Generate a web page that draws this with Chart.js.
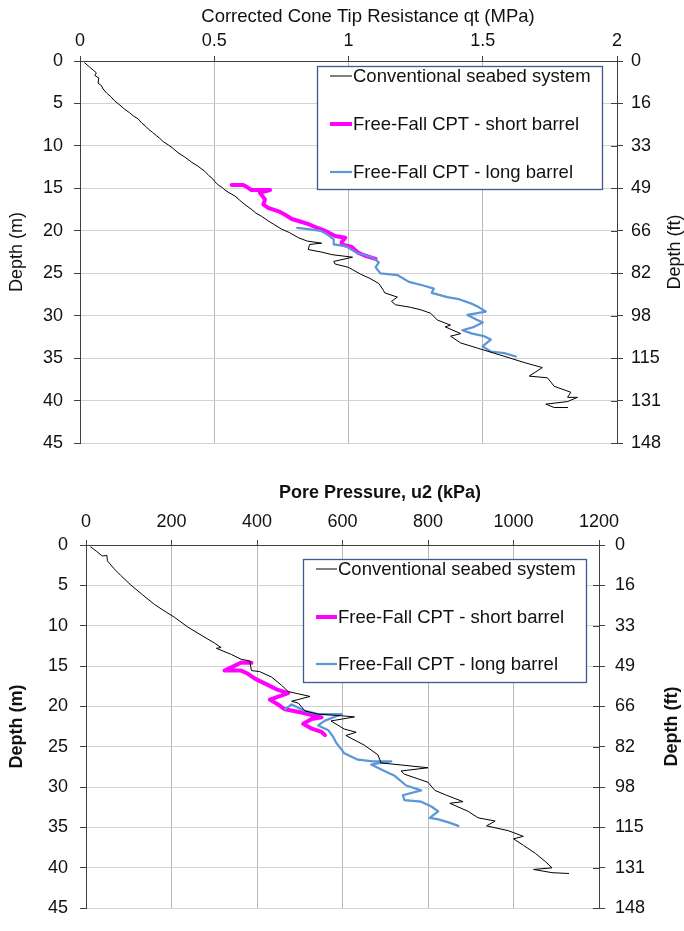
<!DOCTYPE html>
<html><head><meta charset="utf-8">
<script src="https://cdn.jsdelivr.net/npm/chart.js@4.4.1/dist/chart.umd.min.js"></script>
<style>
html,body{margin:0;padding:0;background:#fff;}
#wrap{position:relative;width:684px;height:931px;overflow:hidden;background:#fff;}
canvas{position:absolute;left:0;}
</style></head><body>
<div id="wrap">
<canvas id="c1" width="684" height="465" style="top:0;width:684px;height:465px"></canvas>
<canvas id="c2" width="684" height="466" style="top:465px;width:684px;height:466px"></canvas>
</div>
<script>
// ---------- tick labels ----------
const depthTicks = [0, 5, 10, 15, 20, 25, 30, 35, 40, 45];
const depthMLabels = ['0', '5', '10', '15', '20', '25', '30', '35', '40', '45'];
const depthFtLabels = ['0', '16', '33', '49', '66', '82', '98', '115', '131', '148'];
const qtTicks = [0, 0.5, 1, 1.5, 2];
const qtTickLabels = ['0', '0.5', '1', '1.5', '2'];
const u2Ticks = [0, 200, 400, 600, 800, 1000, 1200];
const u2TickLabels = ['0', '200', '400', '600', '800', '1000', '1200'];

const seriesNames = ['Conventional seabed system', 'Free-Fall CPT - short barrel', 'Free-Fall CPT - long barrel'];

// ---------- Chart 1: corrected cone tip resistance qt (MPa) vs depth (m) ----------
const qtConvDepth = [0.2, 0.7, 1.1, 1.4, 1.7, 2.0, 2.6, 2.9, 3.3, 3.8, 4.2, 4.7, 5.1, 5.5, 5.7, 6.1, 6.5, 6.8, 7.3, 7.7, 8.0, 8.4, 8.8, 9.1, 9.5, 9.9, 10.3, 10.8, 11.3, 11.9, 12.4, 13.0, 13.5, 13.9, 14.2, 14.6, 14.9, 15.2, 15.5, 15.9, 16.4, 16.9, 17.5, 17.9, 18.3, 18.8, 19.2, 19.8, 20.2, 20.8, 21.2, 21.45, 21.6, 22.2, 22.5, 22.8, 23.1, 23.6, 23.9, 24.3, 25.1, 25.6, 26.2, 27.0, 27.3, 27.8, 28.3, 28.7, 29.0, 29.3, 29.7, 30.5, 31.1, 31.3, 32.1, 32.4, 33.2, 33.8, 34.4, 35.0, 35.5, 36.1, 37.1, 37.3, 38.3, 39.0, 39.6, 39.6, 40.1, 40.4, 40.8, 40.8];
const qtConvValue = [0.017, 0.035, 0.05, 0.061, 0.055, 0.07, 0.067, 0.08, 0.086, 0.1, 0.115, 0.129, 0.145, 0.16, 0.167, 0.185, 0.2, 0.216, 0.23, 0.245, 0.254, 0.27, 0.285, 0.297, 0.31, 0.33, 0.347, 0.365, 0.39, 0.415, 0.44, 0.465, 0.48, 0.495, 0.502, 0.515, 0.53, 0.54, 0.555, 0.577, 0.595, 0.614, 0.64, 0.655, 0.677, 0.7, 0.72, 0.751, 0.78, 0.813, 0.846, 0.9, 0.855, 0.85, 0.9, 0.938, 1.015, 0.945, 0.95, 1.0, 1.045, 1.08, 1.113, 1.13, 1.135, 1.182, 1.16, 1.175, 1.231, 1.27, 1.306, 1.331, 1.38, 1.36, 1.418, 1.38, 1.418, 1.48, 1.542, 1.604, 1.654, 1.722, 1.673, 1.741, 1.766, 1.828, 1.816, 1.853, 1.816, 1.735, 1.766, 1.816];

const qtShortDepth = [14.6, 14.6, 14.9, 15.2, 15.2, 15.5, 15.7, 16.3, 16.9, 17.3, 17.7, 18.1, 18.6, 18.9, 19.2, 19.6, 20.0, 20.6, 20.8, 21.3, 21.6, 21.9, 22.6, 22.9, 23.3];
const qtShortValue = [0.565, 0.608, 0.625, 0.639, 0.708, 0.67, 0.675, 0.689, 0.683, 0.701, 0.74, 0.764, 0.789, 0.82, 0.851, 0.88, 0.913, 0.95, 0.988, 0.975, 0.975, 1.012, 1.037, 1.06, 1.101];

const qtLongDepth = [19.65, 19.8, 20.0, 20.4, 21.0, 21.6, 21.8, 22.6, 23.1, 23.7, 24.3, 25.0, 25.2, 26.0, 26.4, 26.8, 27.3, 27.8, 28.0, 28.6, 29.0, 29.5, 29.9, 30.5, 30.8, 31.3, 31.7, 32.1, 32.4, 32.8, 33.6, 34.2, 34.4, 34.8];
const qtLongValue = [0.809, 0.85, 0.896, 0.92, 0.945, 0.945, 0.989, 1.032, 1.088, 1.113, 1.101, 1.119, 1.182, 1.225, 1.275, 1.318, 1.31, 1.368, 1.406, 1.461, 1.486, 1.511, 1.443, 1.48, 1.5, 1.468, 1.424, 1.461, 1.505, 1.53, 1.499, 1.53, 1.58, 1.623];

// ---------- Chart 2: pore pressure u2 (kPa) vs depth (m) ----------
const u2ConvDepth = [0.24, 0.8, 1.36, 1.3, 1.96, 2.96, 3.76, 4.96, 6.16, 7.36, 8.16, 8.96, 10.16, 11.16, 12.16, 12.7, 12.8, 13.56, 14.16, 14.36, 15.56, 15.68, 16.36, 17.36, 18.16, 18.76, 19.36, 19.6, 20.56, 20.96, 21.16, 21.3, 21.8, 22.8, 23.2, 23.6, 24.8, 26.0, 27.0, 27.6, 28.0, 28.4, 29.4, 30.4, 31.0, 31.8, 32.0, 33.0, 33.8, 34.2, 34.8, 35.4, 36.1, 36.4, 37.2, 38.2, 39.2, 40.0, 40.2, 40.6, 40.7];
const u2ConvValue = [11, 25, 38, 49, 50, 66, 81, 105, 132, 160, 183, 207, 238, 269, 301, 316, 305, 340, 363, 383, 387, 406, 434, 457, 473, 524, 481, 497, 512, 543, 598, 628, 573, 604, 632, 608, 651, 683, 690, 800, 737, 745, 800, 816, 843, 882, 851, 894, 917, 957, 937, 988, 1023, 1000, 1023, 1051, 1074, 1090, 1047, 1090, 1129];

const u2ShortDepth = [14.6, 14.56, 15.16, 15.56, 15.56, 15.96, 16.56, 17.36, 17.96, 18.36, 19.16, 19.76, 20.36, 20.76, 21.36, 21.56, 22.16, 22.76, 23.16, 23.56];
const u2ShortValue = [387, 363, 340, 324, 363, 379, 395, 426, 449, 473, 430, 449, 465, 504, 551, 528, 508, 528, 551, 559];

const u2LongDepth = [20.36, 19.76, 20.56, 20.96, 20.96, 21.76, 22.36, 22.96, 23.76, 24.56, 25.36, 25.8, 26.2, 26.6, 26.8, 26.8, 27.2, 28.0, 28.6, 29.8, 30.4, 31.0, 31.6, 31.8, 32.4, 33.0, 33.8, 34.0, 34.4, 34.8];
const u2LongValue = [465, 481, 512, 543, 598, 559, 543, 567, 578, 586, 598, 604, 620, 636, 671, 714, 667, 698, 722, 749, 784, 741, 745, 784, 808, 824, 804, 824, 850, 871];

// ---------- styling ----------
const FONT = '"Liberation Sans", Arial, sans-serif';
const AXIS = '#404040';
const TXT = '#111';
const COLORS = ['#000000', '#ff00ff', '#5b96d8'];
const WIDTHS = [1, 4, 2.2];

function pts(xs, ys) { return xs.map((x, i) => ({ x: x, y: ys[i] })); }

const boxLegend = {
  id: 'boxLegend',
  afterDatasetsDraw(chart, args, o) {
    const ctx = chart.ctx;
    ctx.save();
    ctx.fillStyle = '#fff';
    ctx.fillRect(o.x, o.y, o.w, o.h);
    ctx.strokeStyle = '#3d5a8c';
    ctx.lineWidth = 1.3;
    ctx.strokeRect(o.x + 0.5, o.y + 0.5, o.w, o.h);
    ctx.font = o.fontSize + 'px ' + FONT;
    ctx.textBaseline = 'middle';
    ctx.textAlign = 'left';
    chart.data.datasets.forEach((ds, i) => {
      const y = o.y + o.rows[i];
      ctx.strokeStyle = ds.borderColor;
      ctx.lineWidth = ds.borderWidth;
      ctx.beginPath();
      ctx.moveTo(o.x + o.lx0, y);
      ctx.lineTo(o.x + o.lx1, y);
      ctx.stroke();
      ctx.fillStyle = TXT;
      ctx.fillText(ds.label, o.x + o.tx, y + 1);
    });
    ctx.restore();
  }
};

const axisExtras = {
  id: 'axisExtras',
  afterDraw(chart, args, o) {
    const sc = chart.scales.y2;
    const ctx = chart.ctx;
    ctx.save();
    ctx.strokeStyle = AXIS;
    ctx.lineWidth = 1;
    depthTicks.forEach(v => {
      const y = Math.round(sc.getPixelForValue(v)) + 0.5;
      ctx.beginPath();
      ctx.moveTo(sc.left - o.inner, y);
      ctx.lineTo(sc.left, y);
      ctx.stroke();
    });
    const weight = o.bold ? 'bold ' : '';
    ctx.fillStyle = TXT;
    ctx.textAlign = 'center';
    ctx.textBaseline = 'middle';
    // top (x) axis title
    ctx.font = weight + o.xTitleSize + 'px ' + FONT;
    ctx.fillText(o.xTitle, o.xTitleX, o.xTitleY);
    // right axis title, reading bottom-to-top
    ctx.translate(o.titleX, (chart.chartArea.top + chart.chartArea.bottom) / 2);
    ctx.rotate(-Math.PI / 2);
    ctx.font = weight + o.fontSize + 'px ' + FONT;
    ctx.fillText(o.title, 0, 0);
    ctx.restore();
  }
};

function build(id, p) {
  const datasets = p.series.map((s, i) => ({
    label: seriesNames[i],
    data: pts(s[0], s[1]),
    showLine: true,
    borderColor: COLORS[i],
    backgroundColor: COLORS[i],
    borderWidth: WIDTHS[i],
    borderJoinStyle: 'round',
    borderCapStyle: 'round',
    pointRadius: 0,
    pointHoverRadius: 0,
    tension: 0,
    order: [0, 2, 1][i],
    xAxisID: 'x',
    yAxisID: 'y'
  }));
  const tickFont = { family: FONT, size: p.tickSize };
  const titleFont = { family: FONT, size: p.titleSize, weight: p.bold ? 'bold' : 'normal' };
  return new Chart(document.getElementById(id), {
    type: 'scatter',
    data: { datasets: datasets },
    options: {
      responsive: false,
      animation: false,
      devicePixelRatio: 1,
      layout: { padding: { left: 0, right: 0, top: 0, bottom: p.padBottom } },
      plugins: {
        legend: { display: false },
        tooltip: { enabled: false },
        boxLegend: p.legend,
        axisExtras: p.extras
      },
      scales: {
        x: {
          type: 'linear', position: 'top', min: p.xTicks[0], max: p.xTicks[p.xTicks.length - 1],
          afterBuildTicks: s => { s.ticks = p.xTicks.map(v => ({ value: v })); },
          ticks: { callback: v => p.xLabels[p.xTicks.indexOf(v)], font: tickFont, color: TXT, padding: p.xTickPad, maxRotation: 0, autoSkip: false },
          grid: { color: '#b8b8b8', tickColor: AXIS, tickLength: 5, lineWidth: 1 },
          border: { color: AXIS, width: 1 },
          title: { display: false },
          afterFit: s => { s.height = p.top; }
        },
        y: {
          type: 'linear', position: 'left', reverse: true, min: 0, max: 45,
          afterBuildTicks: s => { s.ticks = depthTicks.map(v => ({ value: v })); },
          ticks: { callback: v => depthMLabels[depthTicks.indexOf(v)], font: tickFont, color: TXT, padding: p.yTickPad, autoSkip: false },
          grid: { color: '#d2d2d2', tickColor: AXIS, tickLength: 6, lineWidth: 1 },
          border: { color: AXIS, width: 1 },
          title: { display: true, text: 'Depth (m)', font: titleFont, color: TXT, padding: { top: p.yTitlePad, bottom: 0 } },
          afterFit: s => { s.width = p.left; }
        },
        y2: {
          type: 'linear', position: 'right', reverse: true, min: 0, max: 45,
          afterBuildTicks: s => { s.ticks = depthTicks.map(v => ({ value: v })); },
          ticks: { callback: v => depthFtLabels[depthTicks.indexOf(v)], font: tickFont, color: TXT, padding: p.y2TickPad, autoSkip: false },
          grid: { drawOnChartArea: false, tickColor: AXIS, tickLength: 6 },
          border: { color: AXIS, width: 1 },
          afterFit: s => { s.width = p.rightW; }
        }
      }
    },
    plugins: [boxLegend, axisExtras]
  });
}

build('c1', {
  series: [[qtConvValue, qtConvDepth], [qtShortValue, qtShortDepth], [qtLongValue, qtLongDepth]],
  xTicks: qtTicks, xLabels: qtTickLabels,
  bold: false, tickSize: 18, titleSize: 18,
  top: 61, left: 80, rightW: 67, padBottom: 17,
  xTickPad: 4, yTickPad: 11, yTitlePad: 6, y2TickPad: 8,
  legend: { x: 317, y: 66, w: 285, h: 123, rows: [10, 58, 106], lx0: 13, lx1: 35, tx: 36, fontSize: 18.5 },
  extras: { inner: 6, titleX: 675, title: 'Depth (ft)', fontSize: 18, bold: false,
            xTitle: 'Corrected Cone Tip Resistance qt (MPa)', xTitleX: 368, xTitleY: 17, xTitleSize: 18.5 }
});

build('c2', {
  series: [[u2ConvValue, u2ConvDepth], [u2ShortValue, u2ShortDepth], [u2LongValue, u2LongDepth]],
  xTicks: u2Ticks, xLabels: u2TickLabels,
  bold: true, tickSize: 18, titleSize: 18,
  top: 80, left: 86, rightW: 85, padBottom: 11,
  xTickPad: 7, yTickPad: 12, yTitlePad: 6, y2TickPad: 10,
  legend: { x: 303, y: 94, w: 283, h: 123, rows: [10, 58, 105], lx0: 13, lx1: 34, tx: 35, fontSize: 18.5 },
  extras: { inner: 6, titleX: 672, title: 'Depth (ft)', fontSize: 18, bold: true,
            xTitle: 'Pore Pressure, u2 (kPa)', xTitleX: 380, xTitleY: 28, xTitleSize: 18 }
});
</script>
</body></html>
